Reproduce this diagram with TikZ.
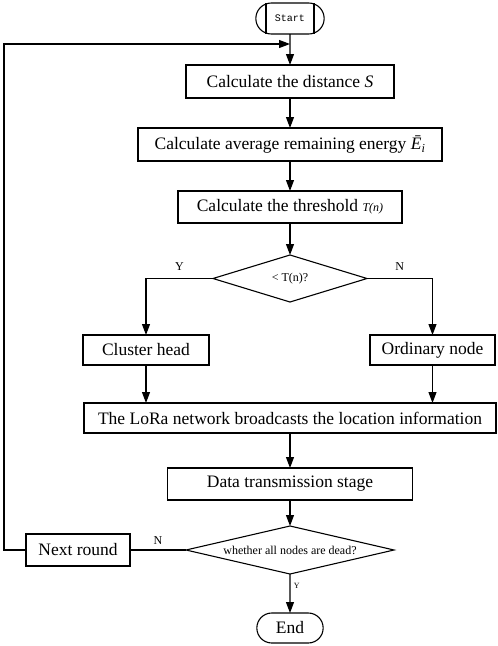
\documentclass[tikz,border=0pt]{standalone}
\usepackage{fontspec}
\setmainfont{Liberation Serif}
\setmonofont{Liberation Mono}
\usetikzlibrary{arrows.meta,shapes.geometric,shapes.misc,positioning,calc}
\tikzset{>={Triangle[length=11pt,width=8pt]}, % filled arrow heads
every node/.style={font=\fontsize{17.5}{20}\selectfont}, % Times-like text everywhere
box/.style={draw, line width=1.1pt, rectangle, minimum height=32pt, inner sep=2pt, outer sep=0pt}, % process step
terminal/.style={draw, line width=1.1pt, rounded rectangle, minimum width=73pt, minimum height=30pt, outer sep=0pt}, % start / end
decision/.style={draw, line width=1.1pt, diamond, inner sep=0pt, outer sep=0pt, font=\fontsize{12}{14}\selectfont}, % tests
flow/.style={->, line width=1.1pt}, % connectors
yn/.style={font=\fontsize{12}{14}\selectfont}, % branch labels
}

\begin{document}
\begin{tikzpicture}[x=1pt,y=1pt]
\useasboundingbox (0,0) rectangle (498,-646);
\node[terminal, minimum width=75pt, minimum height=31pt, font=\ttfamily\fontsize{10}{12}\selectfont] (start) at (290,-18.5) {Start};
\draw[line width=1.1pt] ($(start.north)+(-24,0)$) -- ($(start.south)+(-24,0)$)
  ($(start.north)+(24,0)$) -- ($(start.south)+(24,0)$);
\node[box, minimum width=208pt, minimum height=33pt, below=31pt of start] (dist) {Calculate the distance \textit{S}};
\node[box, minimum width=304pt, minimum height=33pt, below=30pt of dist] (energy) {Calculate average remaining energy \textit{\=E}\textsubscript{\textit{i}}};
\node[box, minimum width=224pt, below=30pt of energy] (thres) {Calculate the threshold {\fontsize{12}{14}\selectfont\textit{T(n)}}};
\node[decision, minimum width=154pt, minimum height=47pt, aspect=3.3, below=32pt of thres] (cmp) {\textless{} T(n)?};
\node[box, minimum width=126pt, minimum height=30pt, below=33pt of cmp, xshift=-144pt] (head) {Cluster head};
\node[box, minimum width=125pt, minimum height=30pt, below=33pt of cmp, xshift=142.5pt] (ordinary) {Ordinary node};
\node[box, minimum width=412pt, minimum height=30pt, below=101pt of cmp] (bcast) {The LoRa network broadcasts the location information};
\node[box, minimum width=245pt, below=35pt of bcast] (trans) {Data transmission stage};
\node[decision, minimum width=208pt, minimum height=48pt, aspect=4.3, below=26pt of trans] (dead) {whether all nodes are dead?};
\node[terminal, below=39pt of dead] (end) {End};
\node[box, minimum width=104pt, left=56pt of dead] (next) {Next round};
\coordinate[below=10pt of start] (entry);

\draw[flow] (start) -- (dist);
\draw[flow] (dist) -- (energy);
\draw[flow] (energy) -- (thres);
\draw[flow] (thres) -- (cmp);
\draw[flow] (cmp.west) -| node[yn, pos=0.25, above=4pt] {Y} (head);
\draw[flow] (cmp.east) -| node[yn, pos=0.25, above=4pt] {N} (ordinary);
\draw[flow] (head) -- (head |- bcast.north);
\draw[flow] (ordinary) -- (ordinary |- bcast.north);
\draw[flow] (bcast) -- (trans);
\draw[flow] (trans) -- (dead);
\draw[flow] (dead) -- node[pos=0.3, right, font=\fontsize{8}{9}\selectfont] {Y} (end);
\draw[line width=1.1pt] (dead.west) -- node[yn, above=2pt] {N} (next);
\draw[flow] (next.west) -- ++(-22,0) |- (entry);
\end{tikzpicture}
\end{document}
